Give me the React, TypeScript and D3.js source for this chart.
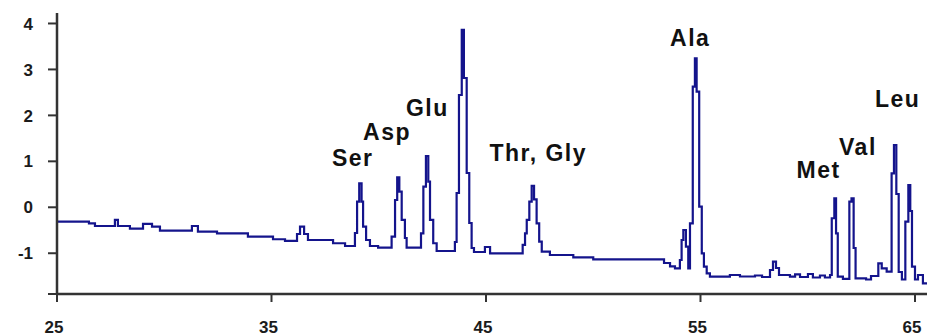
import * as d3 from "d3";

const retentionTime = [
  25.0, 26.49, 26.77, 27.7, 27.84, 28.4, 29.01, 29.43, 29.8, 31.29, 31.57, 32.46, 33.9, 35.07, 35.63,
  36.19, 36.33, 36.52, 36.7, 37.87, 38.43,
  38.89, 38.99, 39.09, 39.2, 39.27, 39.41, 39.59, 39.97,
  40.6, 40.76, 40.86, 40.96, 41.07, 41.22, 41.3,
  41.97, 42.08, 42.2, 42.31, 42.39, 42.54, 42.7,
  43.55, 43.63, 43.74, 43.87, 43.97, 44.1, 44.22, 44.33, 44.44, 44.95, 45.19,
  46.71, 46.82, 46.9, 47.02, 47.13, 47.24, 47.36, 47.48, 47.6, 47.98, 49.07, 50.0, 53.3, 53.58, 53.81,
  54.04, 54.12, 54.2, 54.32, 54.43, 54.51, 54.64, 54.74, 54.82, 54.94, 55.06, 55.16, 55.29, 55.44,
  56.37, 56.84, 57.54, 57.87, 58.24, 58.38, 58.52, 58.66, 59.17, 59.41, 59.64, 60.01, 60.24, 60.57, 60.8, 61.04,
  61.12, 61.24, 61.32, 61.4, 61.64,
  61.94, 62.04, 62.14, 62.23, 62.72, 62.95, 63.29, 63.45, 63.68,
  63.91, 64.02, 64.13, 64.24, 64.39, 64.55, 64.69, 64.78, 64.86, 65.0, 65.14, 65.37, 65.56,
];

const signal = [
  -0.313, -0.348, -0.407, -0.276, -0.407, -0.466, -0.363, -0.422, -0.509, -0.407, -0.531, -0.566, -0.64, -0.696, -0.733,
  -0.581, -0.422, -0.581, -0.712, -0.783, -0.842,
  -0.559, 0.122, 0.522, 0.122, -0.422, -0.712, -0.842, -0.879,
  -0.64, 0.159, 0.653, 0.34, -0.276, -0.668, -0.879,
  -0.566, 0.448, 1.116, 0.557, -0.276, -0.783, -0.951,
  -0.755, 0.311, 2.444, 3.859, 2.814, 0.746, -0.342, -0.886, -0.973, -0.864, -1.001,
  -0.82, -0.566, -0.276, 0.122, 0.464, 0.174, -0.348, -0.749, -0.966, -1.038, -1.088, -1.132, -1.212, -1.288, -1.328,
  -1.147, -0.712, -0.494, -0.857, -1.328, -0.348, 2.625, 3.243, 2.516, 0.013, -1.001, -1.293, -1.436, -1.51,
  -1.473, -1.506, -1.484, -1.517, -1.365, -1.184, -1.321, -1.473, -1.51, -1.462, -1.517, -1.452, -1.528, -1.484, -1.528, -1.473,
  -0.239, 0.196, -0.566, -1.51, -1.56,
  0.122, 0.196, -0.886, -1.545, -1.571, -1.495, -1.219, -1.328, -1.402,
  0.74, 1.356, 0.289, -1.408, -1.571, -0.313, 0.485, -0.081, -1.293, -1.571, -1.473, -1.654, -1.654,
];

const peakNames = ["Ser", "Asp", "Glu", "Thr, Gly", "Ala", "Met", "Val", "Leu"];
const peakLabelTime = [37.82, 39.27, 41.27, 45.16, 53.58, 59.48, 61.46, 63.13];
const peakLabelSignal = [0.899, 1.465, 1.987, 1.008, 3.51, 0.638, 1.138, 2.183];

const xTicks = [25, 35, 45, 55, 65];
const yTicks = [-1, 0, 1, 2, 3, 4];
const xDomain = [25, 65.56];
const yDomain = [-1.887, 4.228];

const width = 927;
const height = 336;
const axisX = 57;
const axisBottom = 294;
const axisTop = 13;

export default function App() {
  const x = d3.scaleLinear().domain(xDomain).range([axisX, width]);
  const y = d3.scaleLinear().domain(yDomain).range([axisBottom, axisTop]);

  const points = retentionTime.map((t, i) => [t, signal[i]] as [number, number]);
  const line = d3
    .line<[number, number]>()
    .x((d) => x(d[0]))
    .y((d) => y(d[1]))
    .curve(d3.curveStepAfter);

  const axisColor = "#333";
  const textColor = "#1b1b1b";

  return (
    <svg
      width={width}
      height={height}
      style={{ position: "absolute", left: 0, top: 0, background: "#fff" }}
      fontFamily="Arial, 'Liberation Sans', sans-serif"
    >
      {/* trace */}
      <path d={line(points) ?? ""} fill="none" stroke="#14148c" strokeWidth={2.2} />

      {/* y axis */}
      <line x1={axisX} x2={axisX} y1={axisTop} y2={axisBottom} stroke={axisColor} strokeWidth={2.5} />
      {yTicks.map((v) => (
        <g key={v}>
          <line x1={axisX - 9} x2={axisX} y1={y(v)} y2={y(v)} stroke={axisColor} strokeWidth={2} />
          <text
            x={33}
            y={y(v)}
            dy="0.36em"
            textAnchor="end"
            fontSize={17}
            fontWeight="bold"
            fill={textColor}
          >
            {v}
          </text>
        </g>
      ))}
      <line x1={axisX - 9} x2={axisX} y1={axisBottom} y2={axisBottom} stroke={axisColor} strokeWidth={2} />

      {/* x axis */}
      <line x1={axisX} x2={width} y1={axisBottom} y2={axisBottom} stroke={axisColor} strokeWidth={2.5} />
      {xTicks.map((t) => (
        <g key={t}>
          <line x1={x(t)} x2={x(t)} y1={axisBottom} y2={axisBottom + 8} stroke={axisColor} strokeWidth={2} />
          <text
            x={x(t) - 3}
            y={333}
            textAnchor="middle"
            fontSize={17}
            fontWeight="bold"
            fill={textColor}
          >
            {t}
          </text>
        </g>
      ))}

      {/* peak labels */}
      {peakNames.map((name, i) => (
        <text
          key={name}
          x={x(peakLabelTime[i])}
          y={y(peakLabelSignal[i])}
          fontSize={23}
          fontWeight="bold"
          letterSpacing={1.5}
          fill="#111"
        >
          {name}
        </text>
      ))}
    </svg>
  );
}
